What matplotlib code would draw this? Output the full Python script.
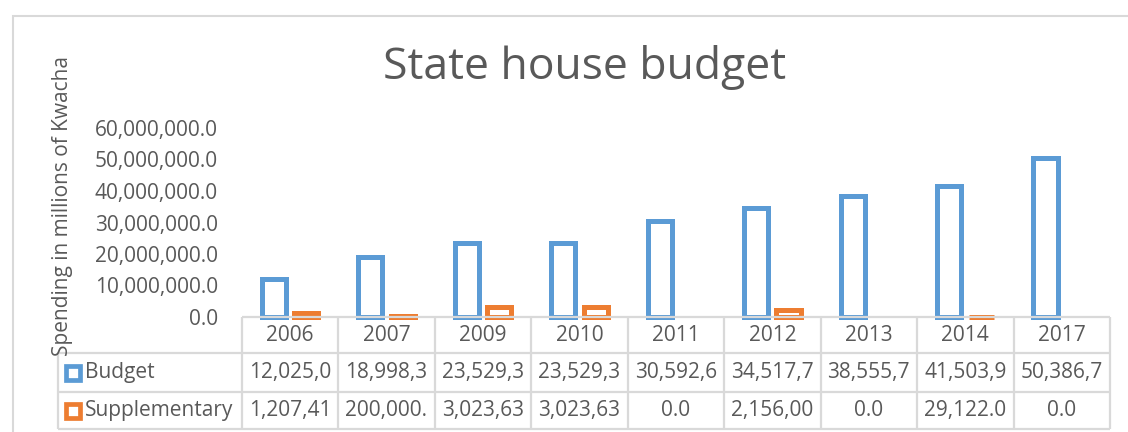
import matplotlib
matplotlib.use("Agg")
import matplotlib.pyplot as plt
import matplotlib.transforms as mtrans
from matplotlib.patches import Rectangle
from matplotlib.lines import Line2D
import numpy as np

years = ["2006", "2007", "2009", "2010", "2011", "2012", "2013", "2014", "2017"]
budget = [12025000.0, 18998300.0, 23529300.0, 23529300.0, 30592600.0,
          34517700.0, 38555700.0, 41503900.0, 50386700.0]
supplementary = [1207410.0, 200000.0, 3023630.0, 3023630.0, 0.0,
                 2156000.0, 0.0, 29122.0, 0.0]
series_names = ["Budget", "Supplementary"]
yticks = [0, 10000000, 20000000, 30000000, 40000000, 50000000, 60000000]

BLUE = "#5B9BD5"
ORANGE = "#ED7D31"
GRID = "#D9D9D9"
TXT = "#595959"
FONT = "Open Sans"
FS = 15

W, H = 1128, 432
fig = plt.figure(figsize=(W / 100, H / 100), dpi=100)
plt.rcParams['font.family'] = [FONT, 'DejaVu Sans']

def fy(y):
    return 1 - y / H

def fx(x):
    return x / W

ax_left, ax_right, ax_top, ax_bottom = 241.7, 1110, 128, 317
ax = fig.add_axes([fx(ax_left), fy(ax_bottom), fx(ax_right) - fx(ax_left),
                   fy(ax_top) - fy(ax_bottom)])

n = len(years)
x = np.arange(n)
bw = 0.25
off = 0.168
lw = 3.6
ax.bar(x - off, budget, width=bw, facecolor="white",
       edgecolor=[BLUE if v > 0 else "none" for v in budget],
       linewidth=lw, clip_on=False, zorder=3)
ax.bar(x + off, supplementary, width=bw, facecolor="white",
       edgecolor=[ORANGE if v > 0 else "none" for v in supplementary],
       linewidth=lw, clip_on=False, zorder=3)

ax.set_xlim(-0.5, n - 0.5)
ax.set_ylim(0, 60000000)
ax.set_yticks(yticks)
ax.set_yticklabels([f"{v:,.1f}" for v in yticks])
ax.tick_params(axis="y", length=0, pad=17, labelsize=FS, labelcolor=TXT)
ax.set_xticks([])
for s in ax.spines.values():
    s.set_visible(False)
for lbl in ax.get_yticklabels():
    lbl.set_fontfamily(FONT)

# Table
tr = mtrans.blended_transform_factory(ax.transData, fig.transFigure)
row_lines = [317, 353.3, 391.7, 429.3]
legend_left = 58.3
lc = dict(color=GRID, linewidth=1.6, solid_capstyle="butt")
fig.add_artist(Line2D([-0.5, n - 0.5], [fy(row_lines[0])] * 2, transform=tr, **lc))
for yy in row_lines[1:]:
    fig.add_artist(Line2D([fx(legend_left), fx(ax_right)], [fy(yy)] * 2,
                          transform=fig.transFigure, **lc))
for i in range(n + 1):
    fig.add_artist(Line2D([i - 0.5, i - 0.5], [fy(row_lines[0]), fy(row_lines[-1])],
                          transform=tr, **lc))
fig.add_artist(Line2D([fx(legend_left)] * 2, [fy(row_lines[1]), fy(row_lines[-1])],
                      transform=fig.transFigure, **lc))

row_centers = [(row_lines[k] + row_lines[k + 1]) / 2 for k in range(3)]
for i, yr in enumerate(years):
    fig.text(i, fy(row_centers[0]), yr, transform=tr, ha="center", va="center",
             fontsize=FS, color=TXT, family=FONT)
    fig.text(i, fy(row_centers[1]), f"{budget[i]:,.1f}"[:8], transform=tr,
             ha="center", va="center", fontsize=FS, color=TXT, family=FONT)
    fig.text(i, fy(row_centers[2]), f"{supplementary[i]:,.1f}"[:8], transform=tr,
             ha="center", va="center", fontsize=FS, color=TXT, family=FONT)

for k, (name, col) in enumerate(zip(series_names, [BLUE, ORANGE])):
    yc = row_centers[k + 1]
    sq = 14
    fig.add_artist(Rectangle((fx(66), fy(yc + sq / 2)), fx(sq), sq / H,
                             transform=fig.transFigure, facecolor="white",
                             edgecolor=col, linewidth=3.4))
    fig.text(fx(85), fy(yc), name, ha="left", va="center", fontsize=FS,
             color=TXT, family=FONT)

# Titles
fig.text(fx(585), fy(68), "State house budget", ha="center", va="center",
         fontsize=32, color=TXT, family=FONT)
fig.text(fx(63), fy(206), "Spending in millions of Kwacha", ha="center",
         va="center", rotation=90, fontsize=15, color=TXT, family=FONT)

# Chart border (cropped)
fig.add_artist(Rectangle((fx(12.7), fy(460)), fx(1140 - 12.7), (460 - 15.7) / H,
                         transform=fig.transFigure, facecolor="none",
                         edgecolor=GRID, linewidth=1.5, clip_on=False))

fig.savefig("out.png", dpi=100)
